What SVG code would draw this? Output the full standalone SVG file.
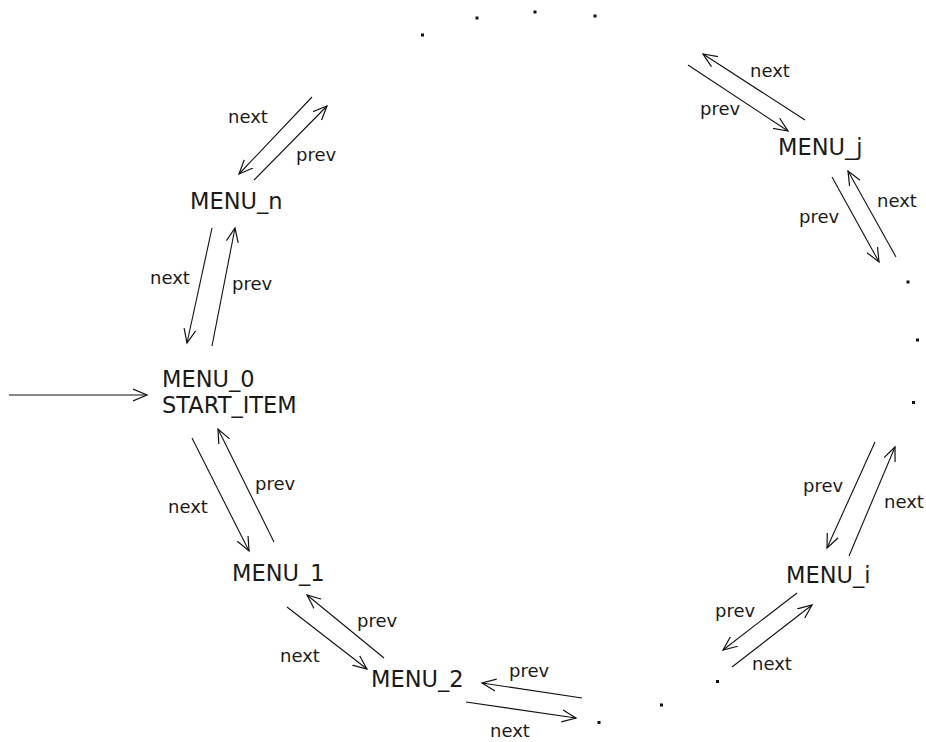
<svg xmlns="http://www.w3.org/2000/svg" width="926" height="742" viewBox="0 0 926 742">
<defs>
<marker id="ah" markerUnits="userSpaceOnUse" markerWidth="20" markerHeight="20" refX="14" refY="7" orient="auto">
<path d="M0,1 L14,7 L0,13" fill="none" stroke="#111" stroke-width="1.2"/>
</marker>
<style>
.node{font-family:"DejaVu Sans",sans-serif;font-size:22.5px;fill:#1a1a1a}
.lbl{font-family:"DejaVu Sans",sans-serif;font-size:18px;fill:#1a1a1a}
.c line{stroke:#111;stroke-width:1.1;marker-end:url(#ah)}
.dot{fill:#111}
</style>
</defs>
<rect width="926" height="742" fill="#fff"/>

<g id="menu_n"><text class="node" x="190" y="209">MENU_n</text></g>
<g id="menu_0"><text class="node" x="162" y="387">MENU_0</text><text class="node" x="162" y="413">START_ITEM</text></g>
<g id="menu_1"><text class="node" x="232" y="581">MENU_1</text></g>
<g id="menu_2"><text class="node" x="371" y="687">MENU_2</text></g>
<g id="menu_i"><text class="node" x="786" y="583">MENU_i</text></g>
<g id="menu_j"><text class="node" x="778" y="155">MENU_j</text></g>

<g id="ellipsis" class="dot">
<rect x="421" y="33.5" width="3" height="3"/>
<rect x="475.5" y="16.5" width="3" height="3"/>
<rect x="533.5" y="10.5" width="3" height="3"/>
<rect x="593.5" y="14.5" width="3" height="3"/>
<rect x="906.5" y="280.5" width="3" height="3"/>
<rect x="916" y="338.5" width="3" height="3"/>
<rect x="912" y="401" width="3" height="3"/>
<rect x="716" y="680" width="3" height="3"/>
<rect x="597.5" y="721" width="3" height="3"/>
<rect x="660" y="703.5" width="3" height="3"/>
</g>

<g id="connectors" class="c">
<line x1="9" y1="395" x2="147" y2="395"/>
<line x1="312" y1="97" x2="239" y2="174"/>
<line x1="254" y1="180" x2="327" y2="106"/>
<line x1="212" y1="228" x2="187" y2="343"/>
<line x1="212" y1="346" x2="235" y2="228"/>
<line x1="192" y1="438" x2="249" y2="551"/>
<line x1="274" y1="542" x2="218" y2="429"/>
<line x1="287" y1="607" x2="367" y2="669"/>
<line x1="384" y1="658" x2="307" y2="595"/>
<line x1="466" y1="702" x2="576" y2="718"/>
<line x1="582" y1="698" x2="482" y2="683"/>
<line x1="797" y1="593" x2="723" y2="650"/>
<line x1="732" y1="667" x2="812" y2="605"/>
<line x1="875" y1="442" x2="827" y2="548"/>
<line x1="849" y1="556" x2="895" y2="447"/>
<line x1="832" y1="177" x2="879" y2="262"/>
<line x1="896" y1="257" x2="848" y2="171"/>
<line x1="805" y1="120" x2="703" y2="54"/>
<line x1="688" y1="65" x2="788" y2="131"/>
</g>

<g id="labels">
<text class="lbl" x="228" y="123">next</text>
<text class="lbl" x="296" y="161">prev</text>
<text class="lbl" x="150" y="284">next</text>
<text class="lbl" x="232" y="290">prev</text>
<text class="lbl" x="168" y="513">next</text>
<text class="lbl" x="255" y="490">prev</text>
<text class="lbl" x="280" y="662">next</text>
<text class="lbl" x="357" y="627">prev</text>
<text class="lbl" x="509" y="677">prev</text>
<text class="lbl" x="490" y="737">next</text>
<text class="lbl" x="715" y="617">prev</text>
<text class="lbl" x="752" y="670">next</text>
<text class="lbl" x="803" y="492">prev</text>
<text class="lbl" x="884" y="508">next</text>
<text class="lbl" x="799" y="223">prev</text>
<text class="lbl" x="877" y="207">next</text>
<text class="lbl" x="750" y="77">next</text>
<text class="lbl" x="700" y="115">prev</text>
</g>
</svg>
